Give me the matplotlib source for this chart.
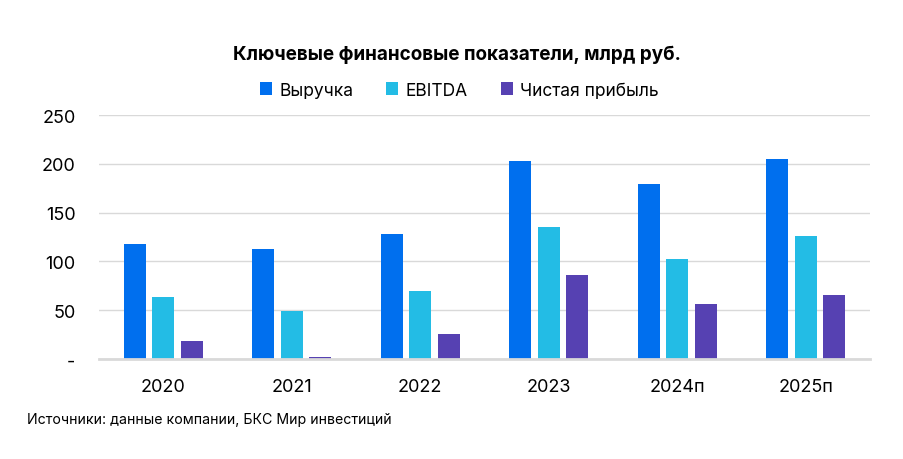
import numpy as np
import matplotlib.pyplot as plt

plt.rcParams['font.family'] = ['Inter', 'DejaVu Sans']

years = ['2020', '2021', '2022', '2023', '2024п', '2025п']
revenue = [118, 113, 128, 203, 179, 205]
ebitda = [64, 49, 70, 135, 102, 126]
net_profit = [18, 2, 26, 86, 56, 66]
y_ticks = [0, 50, 100, 150, 200, 250]
y_labels = ['-', '50', '100', '150', '200', '250']

fig = plt.figure(figsize=(9.04, 4.6), dpi=100)
ax = fig.add_axes([0.1095, 0.2174, 0.853, 0.5304])

x = np.arange(len(years))
w = 0.171
step = 0.222
ax.bar(x - step, revenue, w, color='#006FEE', label='Выручка', zorder=3)
ax.bar(x, ebitda, w, color='#23BCE5', label='EBITDA', zorder=3)
ax.bar(x + step, net_profit, w, color='#5641B2', label='Чистая прибыль', zorder=3)

ax.set_xlim(-0.5, len(years) - 0.5)
ax.set_ylim(0, 250)
ax.set_yticks(y_ticks)
ax.set_yticklabels(y_labels)
ax.set_xticks(x)
ax.set_xticklabels(years)
ax.tick_params(axis='y', length=0, pad=17, labelsize=13)
ax.tick_params(axis='x', length=0, pad=14, labelsize=13)
ax.grid(axis='y', color='#D9D9D9', linewidth=1, zorder=0)
for s in ['top', 'right', 'left']:
    ax.spines[s].set_visible(False)
ax.spines['bottom'].set_color('#D9D9D9')
ax.spines['bottom'].set_linewidth(2)
ax.spines['bottom'].set_zorder(4)

fig.text(0.505, 0.88, 'Ключевые финансовые показатели, млрд руб.',
         ha='center', va='center', fontsize=13.6, fontweight='bold')
fig.legend(loc='center', bbox_to_anchor=(0.508, 0.802), ncol=3, frameon=False,
           fontsize=12.5, handlelength=0.7, handleheight=0.7,
           handletextpad=0.4, columnspacing=1.9)
fig.text(0.03, 0.087, 'Источники: данные компании, БКС Мир инвестиций',
         ha='left', va='center', fontsize=10.2)

fig.savefig('out.png', dpi=100)
